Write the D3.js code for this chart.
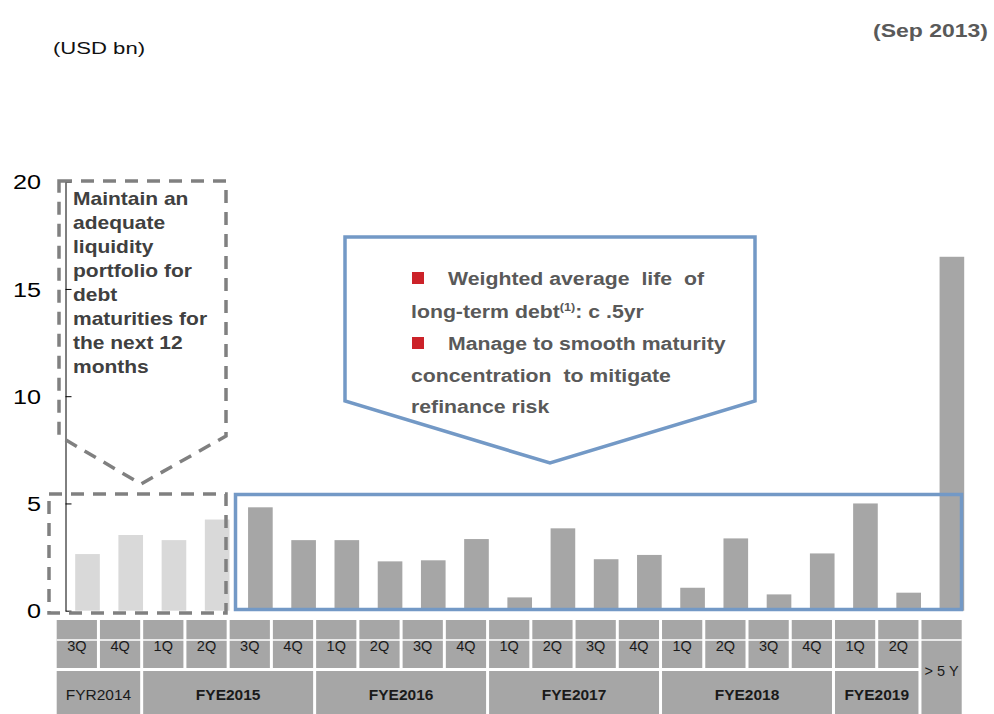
<!DOCTYPE html>
<html>
<head>
<meta charset="utf-8">
<script src="https://cdn.jsdelivr.net/npm/d3@7"></script>
<style>
  html, body { margin: 0; padding: 0; background: #fff; }
  svg { display: block; font-family: Arial, "Liberation Sans", sans-serif; }
  text { white-space: pre; }
</style>
</head>
<body>
<svg id="chart" width="994" height="714"></svg>
<script>
// Debt maturity profile, USD bn, by fiscal quarter
const categories = [
  "FY14-3Q", "FY14-4Q",
  "FY15-1Q", "FY15-2Q", "FY15-3Q", "FY15-4Q",
  "FY16-1Q", "FY16-2Q", "FY16-3Q", "FY16-4Q",
  "FY17-1Q", "FY17-2Q", "FY17-3Q", "FY17-4Q",
  "FY18-1Q", "FY18-2Q", "FY18-3Q", "FY18-4Q",
  "FY19-1Q", "FY19-2Q",
  "GT5Y"
];
const maturities = [
  2.64, 3.53,
  3.29, 4.25, 4.82, 3.29,
  3.29, 2.30, 2.35, 3.34,
  0.62, 3.84, 2.40, 2.60,
  1.07, 3.37, 0.76, 2.67,
  5.00, 0.84,
  16.5
];
const quarterLabels = ["3Q","4Q","1Q","2Q","3Q","4Q","1Q","2Q","3Q","4Q","1Q","2Q","3Q","4Q","1Q","2Q","3Q","4Q","1Q","2Q"];
const longTermLabel = "> 5 Y";
const yearLabels = ["FYR2014", "FYE2015", "FYE2016", "FYE2017", "FYE2018", "FYE2019"];
const yearSpans = [2, 4, 4, 4, 4, 2];
const yearBold = [false, true, true, true, true, true];
const yTicks = [0, 5, 10, 15, 20];
const nearTermCount = 4; // next-12-month maturities, shown lighter

const svg = d3.select("#chart");

const y = d3.scaleLinear().domain([0, 20]).range([610.7, 181.7]);
const x = d3.scaleBand().domain(categories).range([65.9, 973.5])
  .paddingInner(0.43).paddingOuter(0.215);
const tableX = d3.scaleBand().domain(categories).range([56.7, 964.7]).padding(0);
const cellGap = 3;

// horizontally widened text helper
function wideText(parent, tx, ty, str, opts) {
  const g = parent.append("g")
    .attr("transform", `translate(${tx},${ty}) scale(${opts.sx || 1},1)`);
  const t = g.append("text")
    .attr("font-size", opts.size)
    .attr("font-weight", opts.bold ? "bold" : "normal")
    .attr("fill", opts.fill || "#000")
    .attr("text-anchor", opts.anchor || "start");
  if (opts.dy) t.attr("dy", opts.dy);
  t.text(str);
  return t;
}

// header texts
wideText(svg, 53, 53.5, "(USD bn)", { size: 17, sx: 1.3, fill: "#111" });
wideText(svg, 988, 37, "(Sep 2013)", { size: 19, sx: 1.21, bold: true, fill: "#595959", anchor: "end" });

// bars
svg.append("g").selectAll("rect")
  .data(maturities)
  .join("rect")
  .attr("x", (d, i) => x(categories[i]))
  .attr("width", x.bandwidth())
  .attr("y", d => y(d))
  .attr("height", d => y(0) - y(d))
  .attr("fill", (d, i) => i < nearTermCount ? "#D9D9D9" : "#A6A6A6");

// y axis
const yAxis = d3.axisLeft(y).tickValues(yTicks).tickSizeInner(-6).tickSizeOuter(0).tickFormat("");
const yg = svg.append("g").attr("transform", "translate(65.5,0)").call(yAxis);
yg.select(".domain").attr("stroke", "#000").attr("stroke-width", 1);
yg.selectAll(".tick line").attr("stroke", "#000").attr("stroke-width", 1);
const ylab = svg.append("g");
yTicks.forEach(v => {
  wideText(ylab, 41, y(v), String(v), { size: 21, sx: 1.2, fill: "#000", anchor: "end", dy: "0.36em" });
});

// dashed callout for near-term liquidity
const dashStyle = s => s.attr("fill", "none").attr("stroke", "#808080")
  .attr("stroke-width", 3.5).attr("stroke-dasharray", "13,9");
const leftCallout = [[59, 181], [226, 181], [226, 436], [141, 484], [59, 436]];
svg.append("path").attr("d", d3.line()(leftCallout) + "Z").call(dashStyle);
svg.append("rect").attr("x", 49).attr("y", 494).attr("width", 177).attr("height", 119).call(dashStyle);

const leftLines = ["Maintain an", "adequate", "liquidity", "portfolio for", "debt", "maturities for", "the next 12", "months"];
leftLines.forEach((s, i) => {
  wideText(svg, 73, 204.5 + i * 24.1, s, { size: 17.5, sx: 1.2, bold: true, fill: "#404040" });
});

// blue frame and callout for long-term profile
const blue = "#7399C6";
svg.append("rect").attr("x", 235.5).attr("y", 494.5).attr("width", 726).attr("height", 115)
  .attr("fill", "none").attr("stroke", blue).attr("stroke-width", 3.5);
const rightCallout = [[345, 237], [755, 237], [755, 401], [550, 463], [345, 401]];
svg.append("path").attr("d", d3.line()(rightCallout) + "Z")
  .attr("fill", "none").attr("stroke", blue).attr("stroke-width", 3.5);

const bulletColor = "#CC2229";
[[412, 272], [412, 337]].forEach(([bx, by]) => {
  svg.append("rect").attr("x", bx).attr("y", by).attr("width", 12).attr("height", 12).attr("fill", bulletColor);
});
const cOpts = { size: 18.5, sx: 1.15, bold: true, fill: "#595959" };
wideText(svg, 448, 285, "Weighted average  life  of", cOpts);
const l2 = wideText(svg, 411, 317.5, "long-term debt", cOpts);
l2.append("tspan").attr("font-size", 11).attr("dy", -7).text("(1)");
l2.append("tspan").attr("dy", 7).text(": c .5yr");
wideText(svg, 448, 350, "Manage to smooth maturity", cOpts);
wideText(svg, 411, 381.5, "concentration  to mitigate", cOpts);
wideText(svg, 411, 413, "refinance risk", cOpts);

// category table under the axis
const tbl = svg.append("g");
const cellFill = "#A6A6A6";
const row1Top = 620, row1H = 48, row2Top = 671, row2H = 46;
quarterLabels.forEach((q, i) => {
  const cx = tableX(categories[i]);
  tbl.append("rect").attr("x", cx).attr("y", row1Top).attr("width", tableX.step() - cellGap).attr("height", row1H).attr("fill", cellFill);
  tbl.append("text").attr("x", cx + (tableX.step() - cellGap) / 2).attr("y", 650.5)
    .attr("text-anchor", "middle").attr("font-size", 14.5).attr("fill", "#1a1a1a").text(q);
});
// long-term cell spans both rows
const ltX = tableX(categories[categories.length - 1]);
tbl.append("rect").attr("x", ltX).attr("y", row1Top).attr("width", tableX.step() - cellGap)
  .attr("height", row2Top + row2H - row1Top).attr("fill", cellFill);
tbl.append("text").attr("x", ltX + (tableX.step() - cellGap) / 2).attr("y", 676)
  .attr("text-anchor", "middle").attr("font-size", 14.5).attr("fill", "#1a1a1a").text(longTermLabel);

let start = 0;
yearLabels.forEach((lab, k) => {
  const x0 = tableX(categories[start]);
  const x1 = tableX(categories[start + yearSpans[k] - 1]) + tableX.step() - cellGap;
  tbl.append("rect").attr("x", x0).attr("y", row2Top).attr("width", x1 - x0).attr("height", row2H).attr("fill", cellFill);
  tbl.append("text").attr("x", (x0 + x1) / 2).attr("y", 699.5)
    .attr("text-anchor", "middle").attr("font-size", 15.5)
    .attr("font-weight", yearBold[k] ? "bold" : "normal")
    .attr("fill", "#1a1a1a").text(lab);
  start += yearSpans[k];
});
// thin white rule across the quarter row
tbl.append("line").attr("x1", 56.7).attr("x2", ltX + tableX.step() - cellGap)
  .attr("y1", 640).attr("y2", 640).attr("stroke", "#fff").attr("stroke-width", 1.3);
</script>
</body>
</html>
